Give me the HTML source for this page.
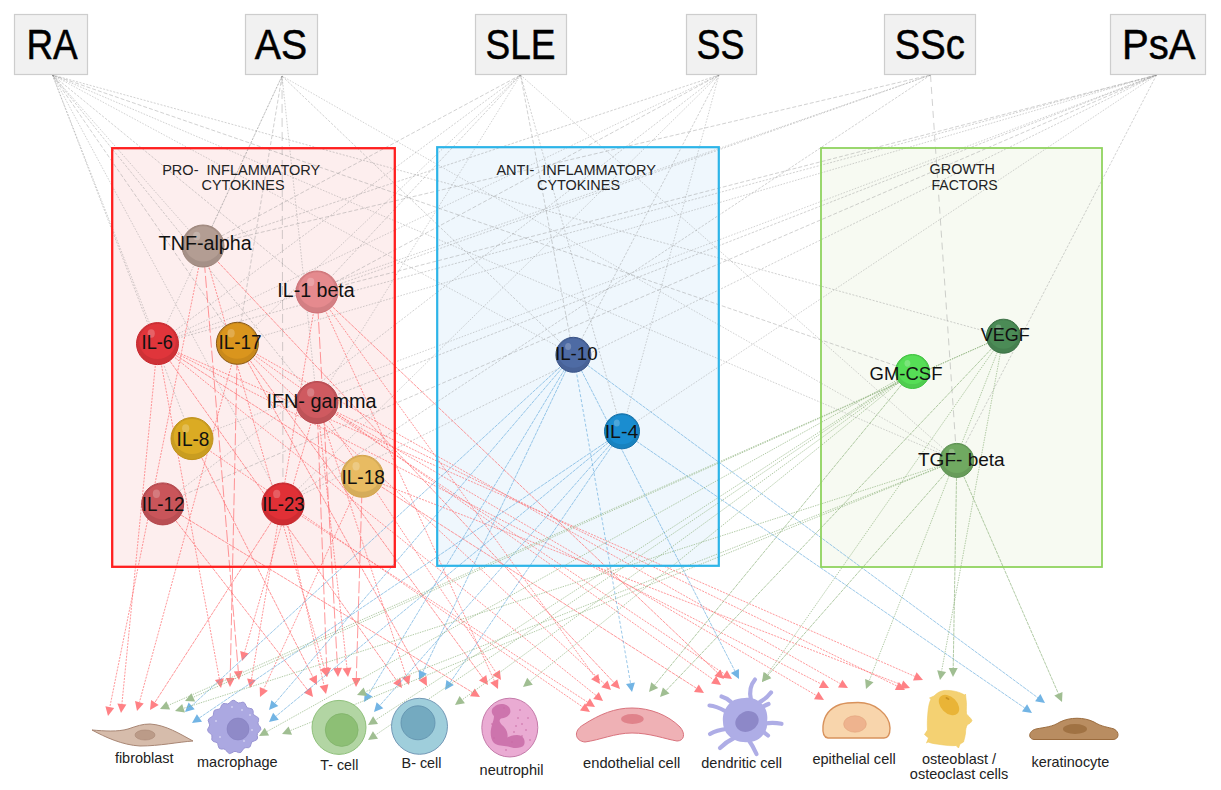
<!DOCTYPE html><html><head><meta charset="utf-8"><style>html,body{margin:0;padding:0;background:#fff;}svg{display:block;}text{font-family:"Liberation Sans",sans-serif;}</style></head><body>
<svg width="1221" height="790" viewBox="0 0 1221 790">
<defs>
</defs>
<rect width="1221" height="790" fill="#fff"/>
<rect x="112" y="148" width="283" height="419" fill="#fdeeee"/>
<rect x="437" y="147" width="282" height="419" fill="#eff7fd"/>
<rect x="821" y="148" width="281" height="419" fill="#f7faf2"/>
<line x1="52.5" y1="75" x2="203" y2="246" stroke="#888" stroke-width="0.9" stroke-dasharray="1.6 1.4" opacity="0.42"/>
<line x1="52.5" y1="75" x2="317" y2="292" stroke="#888" stroke-width="0.9" stroke-dasharray="2.5 1.5" opacity="0.42"/>
<line x1="52.5" y1="75" x2="157.5" y2="343.6" stroke="#888" stroke-width="0.9" stroke-dasharray="1.5 1.5" opacity="0.42"/>
<line x1="52.5" y1="75" x2="237.4" y2="343.3" stroke="#888" stroke-width="0.9" stroke-dasharray="4 2" opacity="0.42"/>
<line x1="52.5" y1="75" x2="192" y2="438.6" stroke="#888" stroke-width="0.9" stroke-dasharray="2 1.5" opacity="0.42"/>
<line x1="52.5" y1="75" x2="283" y2="504" stroke="#888" stroke-width="0.9" stroke-dasharray="1.6 1.4" opacity="0.42"/>
<line x1="52.5" y1="75" x2="317" y2="402.5" stroke="#888" stroke-width="0.9" stroke-dasharray="2.5 1.5" opacity="0.42"/>
<line x1="52.5" y1="75" x2="573.4" y2="354.8" stroke="#888" stroke-width="0.9" stroke-dasharray="1.5 1.5" opacity="0.42"/>
<line x1="52.5" y1="75" x2="912.5" y2="371.5" stroke="#888" stroke-width="0.9" stroke-dasharray="4 2" opacity="0.42"/>
<line x1="52.5" y1="75" x2="1003.5" y2="336.2" stroke="#888" stroke-width="0.9" stroke-dasharray="2 1.5" opacity="0.42"/>
<line x1="52.5" y1="75" x2="956.8" y2="460.4" stroke="#888" stroke-width="0.9" stroke-dasharray="1.6 1.4" opacity="0.42"/>
<line x1="282" y1="76" x2="203" y2="246" stroke="#888" stroke-width="0.9" stroke-dasharray="2.5 1.5" opacity="0.42"/>
<line x1="282" y1="76" x2="157.5" y2="343.6" stroke="#888" stroke-width="0.9" stroke-dasharray="1.5 1.5" opacity="0.42"/>
<line x1="282" y1="76" x2="237.4" y2="343.3" stroke="#888" stroke-width="0.9" stroke-dasharray="4 2" opacity="0.42"/>
<line x1="282" y1="76" x2="283" y2="504" stroke="#888" stroke-width="0.9" stroke-dasharray="9 5" opacity="0.42"/>
<line x1="282" y1="76" x2="317" y2="402.5" stroke="#888" stroke-width="0.9" stroke-dasharray="1.6 1.4" opacity="0.42"/>
<line x1="282" y1="76" x2="573.4" y2="354.8" stroke="#888" stroke-width="0.9" stroke-dasharray="2.5 1.5" opacity="0.42"/>
<line x1="282" y1="76" x2="956.8" y2="460.4" stroke="#888" stroke-width="0.9" stroke-dasharray="1.5 1.5" opacity="0.42"/>
<line x1="520.5" y1="75" x2="203" y2="246" stroke="#888" stroke-width="0.9" stroke-dasharray="4 2" opacity="0.42"/>
<line x1="520.5" y1="75" x2="157.5" y2="343.6" stroke="#888" stroke-width="0.9" stroke-dasharray="2 1.5" opacity="0.42"/>
<line x1="520.5" y1="75" x2="237.4" y2="343.3" stroke="#888" stroke-width="0.9" stroke-dasharray="1.6 1.4" opacity="0.42"/>
<line x1="520.5" y1="75" x2="317" y2="292" stroke="#888" stroke-width="0.9" stroke-dasharray="2.5 1.5" opacity="0.42"/>
<line x1="520.5" y1="75" x2="317" y2="402.5" stroke="#888" stroke-width="0.9" stroke-dasharray="1.5 1.5" opacity="0.42"/>
<line x1="520.5" y1="75" x2="573.4" y2="354.8" stroke="#888" stroke-width="0.9" stroke-dasharray="4 2" opacity="0.42"/>
<line x1="520.5" y1="75" x2="622" y2="431.3" stroke="#888" stroke-width="0.9" stroke-dasharray="2 1.5" opacity="0.42"/>
<line x1="520.5" y1="75" x2="956.8" y2="460.4" stroke="#888" stroke-width="0.9" stroke-dasharray="1.6 1.4" opacity="0.42"/>
<line x1="719" y1="75" x2="203" y2="246" stroke="#888" stroke-width="0.9" stroke-dasharray="2.5 1.5" opacity="0.42"/>
<line x1="719" y1="75" x2="157.5" y2="343.6" stroke="#888" stroke-width="0.9" stroke-dasharray="1.5 1.5" opacity="0.42"/>
<line x1="719" y1="75" x2="317" y2="292" stroke="#888" stroke-width="0.9" stroke-dasharray="4 2" opacity="0.42"/>
<line x1="719" y1="75" x2="162.7" y2="503.9" stroke="#888" stroke-width="0.9" stroke-dasharray="2 1.5" opacity="0.42"/>
<line x1="719" y1="75" x2="283" y2="504" stroke="#888" stroke-width="0.9" stroke-dasharray="1.6 1.4" opacity="0.42"/>
<line x1="719" y1="75" x2="573.4" y2="354.8" stroke="#888" stroke-width="0.9" stroke-dasharray="2.5 1.5" opacity="0.42"/>
<line x1="719" y1="75" x2="622" y2="431.3" stroke="#888" stroke-width="0.9" stroke-dasharray="1.5 1.5" opacity="0.42"/>
<line x1="930.5" y1="75" x2="203" y2="246" stroke="#888" stroke-width="0.9" stroke-dasharray="4 2" opacity="0.42"/>
<line x1="930.5" y1="75" x2="317" y2="292" stroke="#888" stroke-width="0.9" stroke-dasharray="2 1.5" opacity="0.42"/>
<line x1="930.5" y1="75" x2="157.5" y2="343.6" stroke="#888" stroke-width="0.9" stroke-dasharray="1.6 1.4" opacity="0.42"/>
<line x1="930.5" y1="75" x2="283" y2="504" stroke="#888" stroke-width="0.9" stroke-dasharray="2.5 1.5" opacity="0.42"/>
<line x1="930.5" y1="75" x2="956.8" y2="460.4" stroke="#888" stroke-width="0.9" stroke-dasharray="7 5" opacity="0.42"/>
<line x1="1156.5" y1="75" x2="317" y2="292" stroke="#888" stroke-width="0.9" stroke-dasharray="4 2" opacity="0.42"/>
<line x1="1156.5" y1="75" x2="157.5" y2="343.6" stroke="#888" stroke-width="0.9" stroke-dasharray="2 1.5" opacity="0.42"/>
<line x1="1156.5" y1="75" x2="237.4" y2="343.3" stroke="#888" stroke-width="0.9" stroke-dasharray="1.6 1.4" opacity="0.42"/>
<line x1="1156.5" y1="75" x2="317" y2="402.5" stroke="#888" stroke-width="0.9" stroke-dasharray="2.5 1.5" opacity="0.42"/>
<line x1="1156.5" y1="75" x2="192" y2="438.6" stroke="#888" stroke-width="0.9" stroke-dasharray="1.5 1.5" opacity="0.42"/>
<line x1="1156.5" y1="75" x2="162.7" y2="503.9" stroke="#888" stroke-width="0.9" stroke-dasharray="4 2" opacity="0.42"/>
<line x1="1156.5" y1="75" x2="283" y2="504" stroke="#888" stroke-width="0.9" stroke-dasharray="2 1.5" opacity="0.42"/>
<line x1="1156.5" y1="75" x2="622" y2="431.3" stroke="#888" stroke-width="0.9" stroke-dasharray="1.6 1.4" opacity="0.42"/>
<line x1="1156.5" y1="75" x2="956.8" y2="460.4" stroke="#888" stroke-width="0.9" stroke-dasharray="2.5 1.5" opacity="0.42"/>
<line x1="203" y1="246" x2="109.8" y2="707.2" stroke="#ff6f73" stroke-width="0.9" stroke-dasharray="2 1.2" opacity="0.8"/>
<polygon points="108,716 105.4,706.3 114.2,708.1" fill="#ff8185"/>
<line x1="157.5" y1="343.6" x2="121.9" y2="704.0" stroke="#ff6f73" stroke-width="0.9" stroke-dasharray="2 1.2" opacity="0.8"/>
<polygon points="121,713 117.4,703.6 126.4,704.5" fill="#ff8185"/>
<line x1="237.4" y1="343.3" x2="139.4" y2="702.3" stroke="#ff6f73" stroke-width="0.9" stroke-dasharray="2 1.2" opacity="0.8"/>
<polygon points="137,711 135.0,701.1 143.7,703.5" fill="#ff8185"/>
<line x1="283" y1="504" x2="154.9" y2="702.4" stroke="#ff6f73" stroke-width="0.9" stroke-dasharray="3.5 0.8" opacity="0.8"/>
<polygon points="150,710 151.1,700.0 158.7,704.9" fill="#ff8185"/>
<line x1="157.5" y1="343.6" x2="219.4" y2="679.1" stroke="#ff6f73" stroke-width="0.9" stroke-dasharray="2 1.2" opacity="0.8"/>
<polygon points="221,688 214.9,680.0 223.8,678.3" fill="#ff8185"/>
<line x1="237.4" y1="343.3" x2="230.2" y2="678.0" stroke="#ff6f73" stroke-width="0.9" stroke-dasharray="12 3" opacity="0.8"/>
<polygon points="230,687 225.7,677.9 234.7,678.1" fill="#ff8185"/>
<line x1="203" y1="246" x2="238.3" y2="671.0" stroke="#ff6f73" stroke-width="0.9" stroke-dasharray="12 3" opacity="0.8"/>
<polygon points="239,680 233.8,671.4 242.7,670.7" fill="#ff8185"/>
<line x1="317" y1="402.5" x2="244.5" y2="652.4" stroke="#ff6f73" stroke-width="0.9" stroke-dasharray="2 1.2" opacity="0.8"/>
<polygon points="242,661 240.2,651.1 248.8,653.6" fill="#ff8185"/>
<line x1="317" y1="292" x2="251.5" y2="679.1" stroke="#ff6f73" stroke-width="0.9" stroke-dasharray="2 1.2" opacity="0.8"/>
<polygon points="250,688 247.1,678.4 255.9,679.9" fill="#ff8185"/>
<line x1="362.4" y1="476.3" x2="263.8" y2="688.8" stroke="#ff6f73" stroke-width="0.9" stroke-dasharray="2 1.2" opacity="0.8"/>
<polygon points="260,697 259.7,686.9 267.9,690.7" fill="#ff8185"/>
<line x1="162.7" y1="503.9" x2="307.5" y2="689.9" stroke="#ff6f73" stroke-width="0.9" stroke-dasharray="3.5 0.8" opacity="0.8"/>
<polygon points="313,697 303.9,692.7 311.0,687.1" fill="#ff8185"/>
<line x1="192" y1="438.6" x2="312.9" y2="677.0" stroke="#ff6f73" stroke-width="0.9" stroke-dasharray="3.5 0.8" opacity="0.8"/>
<polygon points="317,685 308.9,679.0 316.9,674.9" fill="#ff8185"/>
<line x1="283" y1="504" x2="324.0" y2="685.2" stroke="#ff6f73" stroke-width="0.9" stroke-dasharray="2 1.2" opacity="0.8"/>
<polygon points="326,694 319.6,686.2 328.4,684.2" fill="#ff8185"/>
<line x1="317" y1="402.5" x2="326.7" y2="668.0" stroke="#ff6f73" stroke-width="0.9" stroke-dasharray="12 3" opacity="0.8"/>
<polygon points="327,677 322.2,668.2 331.2,667.8" fill="#ff8185"/>
<line x1="203" y1="246" x2="324.5" y2="668.4" stroke="#ff6f73" stroke-width="0.9" stroke-dasharray="2 1.2" opacity="0.8"/>
<polygon points="327,677 320.2,669.6 328.8,667.1" fill="#ff8185"/>
<line x1="317" y1="292" x2="337.5" y2="668.0" stroke="#ff6f73" stroke-width="0.9" stroke-dasharray="12 3" opacity="0.8"/>
<polygon points="338,677 333.0,668.3 342.0,667.8" fill="#ff8185"/>
<line x1="317" y1="402.5" x2="347.0" y2="668.1" stroke="#ff6f73" stroke-width="0.9" stroke-dasharray="2 1.2" opacity="0.8"/>
<polygon points="348,677 342.5,668.6 351.5,667.6" fill="#ff8185"/>
<line x1="362.4" y1="476.3" x2="356.3" y2="678.0" stroke="#ff6f73" stroke-width="0.9" stroke-dasharray="12 3" opacity="0.8"/>
<polygon points="356,687 351.8,677.9 360.8,678.1" fill="#ff8185"/>
<line x1="157.5" y1="343.6" x2="396.8" y2="680.7" stroke="#ff6f73" stroke-width="0.9" stroke-dasharray="3.5 0.8" opacity="0.8"/>
<polygon points="402,688 393.1,683.3 400.5,678.1" fill="#ff8185"/>
<line x1="317" y1="402.5" x2="406.2" y2="676.4" stroke="#ff6f73" stroke-width="0.9" stroke-dasharray="2 1.2" opacity="0.8"/>
<polygon points="409,685 401.9,677.8 410.5,675.0" fill="#ff8185"/>
<line x1="237.4" y1="343.3" x2="422.6" y2="678.1" stroke="#ff6f73" stroke-width="0.9" stroke-dasharray="3.5 0.8" opacity="0.8"/>
<polygon points="427,686 418.7,680.3 426.6,675.9" fill="#ff8185"/>
<line x1="162.7" y1="503.9" x2="472.3" y2="692.3" stroke="#ff6f73" stroke-width="0.9" stroke-dasharray="3.5 0.8" opacity="0.8"/>
<polygon points="480,697 470.0,696.2 474.7,688.5" fill="#ff8185"/>
<line x1="237.4" y1="343.3" x2="482.7" y2="677.7" stroke="#ff6f73" stroke-width="0.9" stroke-dasharray="3.5 0.8" opacity="0.8"/>
<polygon points="488,685 479.0,680.4 486.3,675.1" fill="#ff8185"/>
<line x1="317" y1="292" x2="494.3" y2="680.8" stroke="#ff6f73" stroke-width="0.9" stroke-dasharray="2 1.2" opacity="0.8"/>
<polygon points="498,689 490.2,682.7 498.4,678.9" fill="#ff8185"/>
<line x1="317" y1="402.5" x2="496.0" y2="672.5" stroke="#ff6f73" stroke-width="0.9" stroke-dasharray="2 1.2" opacity="0.8"/>
<polygon points="501,680 492.3,675.0 499.8,670.0" fill="#ff8185"/>
<line x1="192" y1="438.6" x2="582.6" y2="706.9" stroke="#ff6f73" stroke-width="0.9" stroke-dasharray="2 1.2" opacity="0.8"/>
<polygon points="590,712 580.0,710.6 585.1,703.2" fill="#ff8185"/>
<line x1="283" y1="504" x2="587.5" y2="702.1" stroke="#ff6f73" stroke-width="0.9" stroke-dasharray="2 1.2" opacity="0.8"/>
<polygon points="595,707 585.0,705.9 589.9,698.3" fill="#ff8185"/>
<line x1="157.5" y1="343.6" x2="596.0" y2="695.4" stroke="#ff6f73" stroke-width="0.9" stroke-dasharray="2 1.2" opacity="0.8"/>
<polygon points="603,701 593.2,698.9 598.8,691.9" fill="#ff8185"/>
<line x1="317" y1="292" x2="594.7" y2="676.7" stroke="#ff6f73" stroke-width="0.9" stroke-dasharray="2 1.2" opacity="0.8"/>
<polygon points="600,684 591.1,679.3 598.4,674.1" fill="#ff8185"/>
<line x1="237.4" y1="343.3" x2="604.4" y2="683.9" stroke="#ff6f73" stroke-width="0.9" stroke-dasharray="2 1.2" opacity="0.8"/>
<polygon points="611,690 601.3,687.2 607.5,680.6" fill="#ff8185"/>
<line x1="203" y1="246" x2="613.8" y2="682.4" stroke="#ff6f73" stroke-width="0.9" stroke-dasharray="3.5 0.8" opacity="0.8"/>
<polygon points="620,689 610.6,685.5 617.1,679.4" fill="#ff8185"/>
<line x1="157.5" y1="343.6" x2="696.4" y2="688.2" stroke="#ff6f73" stroke-width="0.9" stroke-dasharray="3.5 0.8" opacity="0.8"/>
<polygon points="704,693 694.0,691.9 698.8,684.4" fill="#ff8185"/>
<line x1="237.4" y1="343.3" x2="713.6" y2="679.8" stroke="#ff6f73" stroke-width="0.9" stroke-dasharray="2 1.2" opacity="0.8"/>
<polygon points="721,685 711.1,683.5 716.2,676.1" fill="#ff8185"/>
<line x1="317" y1="292" x2="717.5" y2="672.8" stroke="#ff6f73" stroke-width="0.9" stroke-dasharray="3.5 0.8" opacity="0.8"/>
<polygon points="724,679 714.4,676.1 720.6,669.5" fill="#ff8185"/>
<line x1="317" y1="402.5" x2="724.5" y2="674.0" stroke="#ff6f73" stroke-width="0.9" stroke-dasharray="2 1.2" opacity="0.8"/>
<polygon points="732,679 722.0,677.8 727.0,670.3" fill="#ff8185"/>
<line x1="157.5" y1="343.6" x2="821.0" y2="683.9" stroke="#ff6f73" stroke-width="0.9" stroke-dasharray="2 1.2" opacity="0.8"/>
<polygon points="829,688 818.9,687.9 823.0,679.9" fill="#ff8185"/>
<line x1="237.4" y1="343.3" x2="840.2" y2="683.6" stroke="#ff6f73" stroke-width="0.9" stroke-dasharray="2 1.2" opacity="0.8"/>
<polygon points="848,688 838.0,687.5 842.4,679.7" fill="#ff8185"/>
<line x1="317" y1="402.5" x2="816.2" y2="695.4" stroke="#ff6f73" stroke-width="0.9" stroke-dasharray="2 1.2" opacity="0.8"/>
<polygon points="824,700 814.0,699.3 818.5,691.6" fill="#ff8185"/>
<line x1="157.5" y1="343.6" x2="914.8" y2="676.4" stroke="#ff6f73" stroke-width="0.9" stroke-dasharray="2 1.2" opacity="0.8"/>
<polygon points="923,680 913.0,680.5 916.6,672.3" fill="#ff8185"/>
<line x1="362.4" y1="476.3" x2="901.6" y2="684.8" stroke="#ff6f73" stroke-width="0.9" stroke-dasharray="2 1.2" opacity="0.8"/>
<polygon points="910,688 900.0,689.0 903.2,680.6" fill="#ff8185"/>
<line x1="317" y1="402.5" x2="896.9" y2="686.0" stroke="#ff6f73" stroke-width="0.9" stroke-dasharray="2 1.2" opacity="0.8"/>
<polygon points="905,690 894.9,690.1 898.9,682.0" fill="#ff8185"/>
<line x1="573.4" y1="354.8" x2="191.6" y2="705.9" stroke="#62a9dc" stroke-width="0.9" stroke-dasharray="3.5 0.8" opacity="0.7"/>
<polygon points="185,712 188.6,702.6 194.7,709.2" fill="#72b4e4"/>
<line x1="622" y1="431.3" x2="199.4" y2="717.9" stroke="#62a9dc" stroke-width="0.9" stroke-dasharray="3.5 0.8" opacity="0.7"/>
<polygon points="192,723 196.9,714.2 202.0,721.7" fill="#72b4e4"/>
<line x1="573.4" y1="354.8" x2="274.9" y2="703.2" stroke="#62a9dc" stroke-width="0.9" stroke-dasharray="3.5 0.8" opacity="0.7"/>
<polygon points="269,710 271.4,700.2 278.3,706.1" fill="#72b4e4"/>
<line x1="622" y1="431.3" x2="275.9" y2="716.3" stroke="#62a9dc" stroke-width="0.9" stroke-dasharray="3.5 0.8" opacity="0.7"/>
<polygon points="269,722 273.1,712.8 278.8,719.8" fill="#72b4e4"/>
<line x1="573.4" y1="354.8" x2="368.6" y2="694.3" stroke="#62a9dc" stroke-width="0.9" stroke-dasharray="3.5 0.8" opacity="0.7"/>
<polygon points="364,702 364.8,692.0 372.5,696.6" fill="#72b4e4"/>
<line x1="622" y1="431.3" x2="380.0" y2="705.3" stroke="#62a9dc" stroke-width="0.9" stroke-dasharray="3.5 0.8" opacity="0.7"/>
<polygon points="374,712 376.6,702.3 383.3,708.2" fill="#72b4e4"/>
<line x1="573.4" y1="354.8" x2="422.9" y2="671.9" stroke="#62a9dc" stroke-width="0.9" stroke-dasharray="3.5 0.8" opacity="0.7"/>
<polygon points="419,680 418.8,669.9 426.9,673.8" fill="#72b4e4"/>
<line x1="622" y1="431.3" x2="450.1" y2="682.6" stroke="#62a9dc" stroke-width="0.9" stroke-dasharray="3.5 0.8" opacity="0.7"/>
<polygon points="445,690 446.4,680.0 453.8,685.1" fill="#72b4e4"/>
<line x1="573.4" y1="354.8" x2="630.5" y2="683.1" stroke="#62a9dc" stroke-width="0.9" stroke-dasharray="3 2" opacity="0.7"/>
<polygon points="632,692 626.0,683.9 634.9,682.4" fill="#72b4e4"/>
<line x1="573.4" y1="354.8" x2="734.9" y2="671.0" stroke="#62a9dc" stroke-width="0.9" stroke-dasharray="3.5 0.8" opacity="0.7"/>
<polygon points="739,679 730.9,673.0 738.9,668.9" fill="#72b4e4"/>
<line x1="622" y1="431.3" x2="1024.6" y2="707.9" stroke="#62a9dc" stroke-width="0.9" stroke-dasharray="3.5 0.8" opacity="0.7"/>
<polygon points="1032,713 1022.0,711.6 1027.1,704.2" fill="#72b4e4"/>
<line x1="573.4" y1="354.8" x2="1037.8" y2="697.7" stroke="#62a9dc" stroke-width="0.9" stroke-dasharray="3.5 0.8" opacity="0.7"/>
<polygon points="1045,703 1035.1,701.3 1040.4,694.0" fill="#72b4e4"/>
<line x1="1003.5" y1="336.2" x2="168.2" y2="705.4" stroke="#8db27c" stroke-width="0.9" stroke-dasharray="1.4 1.1" opacity="0.75"/>
<polygon points="160,709 166.4,701.2 170.1,709.5" fill="#a0be92"/>
<line x1="956.8" y1="460.4" x2="183.6" y2="708.3" stroke="#8db27c" stroke-width="0.9" stroke-dasharray="1.4 1.1" opacity="0.75"/>
<polygon points="175,711 182.2,704.0 184.9,712.5" fill="#a0be92"/>
<line x1="1003.5" y1="336.2" x2="193.2" y2="697.3" stroke="#8db27c" stroke-width="0.9" stroke-dasharray="1.4 1.1" opacity="0.75"/>
<polygon points="185,701 191.4,693.2 195.1,701.4" fill="#a0be92"/>
<line x1="912.5" y1="371.5" x2="266.9" y2="731.6" stroke="#8db27c" stroke-width="0.9" stroke-dasharray="1.4 1.1" opacity="0.75"/>
<polygon points="259,736 264.7,727.7 269.1,735.5" fill="#a0be92"/>
<line x1="956.8" y1="460.4" x2="290.3" y2="730.6" stroke="#8db27c" stroke-width="0.9" stroke-dasharray="1.4 1.1" opacity="0.75"/>
<polygon points="282,734 288.6,726.4 292.0,734.8" fill="#a0be92"/>
<line x1="912.5" y1="371.5" x2="375.5" y2="720.1" stroke="#8db27c" stroke-width="0.9" stroke-dasharray="1.4 1.1" opacity="0.75"/>
<polygon points="368,725 373.1,716.3 378.0,723.9" fill="#a0be92"/>
<line x1="912.5" y1="371.5" x2="375.5" y2="735.0" stroke="#8db27c" stroke-width="0.9" stroke-dasharray="1.4 1.1" opacity="0.75"/>
<polygon points="368,740 372.9,731.2 378.0,738.7" fill="#a0be92"/>
<line x1="956.8" y1="460.4" x2="365.4" y2="691.7" stroke="#8db27c" stroke-width="0.9" stroke-dasharray="1.4 1.1" opacity="0.75"/>
<polygon points="357,695 363.7,687.5 367.0,695.9" fill="#a0be92"/>
<line x1="912.5" y1="371.5" x2="462.3" y2="699.7" stroke="#8db27c" stroke-width="0.9" stroke-dasharray="1.4 1.1" opacity="0.75"/>
<polygon points="455,705 459.6,696.1 464.9,703.3" fill="#a0be92"/>
<line x1="912.5" y1="371.5" x2="530.0" y2="681.3" stroke="#8db27c" stroke-width="0.9" stroke-dasharray="1.4 1.1" opacity="0.75"/>
<polygon points="523,687 527.2,677.8 532.8,684.8" fill="#a0be92"/>
<line x1="912.5" y1="371.5" x2="654.7" y2="685.0" stroke="#8db27c" stroke-width="0.9" stroke-dasharray="3.5 0.8" opacity="0.75"/>
<polygon points="649,692 651.2,682.2 658.2,687.9" fill="#a0be92"/>
<line x1="1003.5" y1="336.2" x2="666.2" y2="690.5" stroke="#8db27c" stroke-width="0.9" stroke-dasharray="3.5 0.8" opacity="0.75"/>
<polygon points="660,697 662.9,687.4 669.5,693.6" fill="#a0be92"/>
<line x1="956.8" y1="460.4" x2="767.9" y2="675.2" stroke="#8db27c" stroke-width="0.9" stroke-dasharray="3.5 0.8" opacity="0.75"/>
<polygon points="762,682 764.6,672.3 771.3,678.2" fill="#a0be92"/>
<line x1="1003.5" y1="336.2" x2="767.2" y2="674.6" stroke="#8db27c" stroke-width="0.9" stroke-dasharray="1.4 1.1" opacity="0.75"/>
<polygon points="762,682 763.5,672.0 770.8,677.2" fill="#a0be92"/>
<line x1="1003.5" y1="336.2" x2="869.3" y2="680.6" stroke="#8db27c" stroke-width="0.9" stroke-dasharray="1.4 1.1" opacity="0.75"/>
<polygon points="866,689 865.1,679.0 873.5,682.2" fill="#a0be92"/>
<line x1="1003.5" y1="336.2" x2="941.6" y2="671.1" stroke="#8db27c" stroke-width="0.9" stroke-dasharray="1.4 1.1" opacity="0.75"/>
<polygon points="940,680 937.2,670.3 946.1,672.0" fill="#a0be92"/>
<line x1="956.8" y1="460.4" x2="953.2" y2="668.0" stroke="#8db27c" stroke-width="0.9" stroke-dasharray="3.5 0.8" opacity="0.75"/>
<polygon points="953,677 948.7,667.9 957.7,668.1" fill="#a0be92"/>
<line x1="956.8" y1="460.4" x2="1058.4" y2="693.7" stroke="#8db27c" stroke-width="0.9" stroke-dasharray="3.5 0.8" opacity="0.75"/>
<polygon points="1062,702 1054.3,695.5 1062.5,692.0" fill="#a0be92"/>
<rect x="112.2" y="148.2" width="282.6" height="418.6" fill="none" stroke="#ff1f1f" stroke-width="2.3"/>
<rect x="437.2" y="147.2" width="281.6" height="418.6" fill="none" stroke="#2cb4e8" stroke-width="2.2"/>
<rect x="821" y="148" width="281" height="419" fill="none" stroke="#8fd35f" stroke-width="1.8"/>
<rect x="14.5" y="14.5" width="73" height="60" fill="#f1f1f1" stroke="#cdcdcd" stroke-width="1.2"/>
<text x="26.4" y="59.2" font-size="43" fill="#000" stroke="#000" stroke-width="0.5" textLength="51.4" lengthAdjust="spacingAndGlyphs">RA</text>
<rect x="245.5" y="14.5" width="72" height="60" fill="#f1f1f1" stroke="#cdcdcd" stroke-width="1.2"/>
<text x="254.8" y="59.2" font-size="43" fill="#000" stroke="#000" stroke-width="0.5" textLength="52.4" lengthAdjust="spacingAndGlyphs">AS</text>
<rect x="475.5" y="14.5" width="91" height="60" fill="#f1f1f1" stroke="#cdcdcd" stroke-width="1.2"/>
<text x="485.4" y="59.2" font-size="43" fill="#000" stroke="#000" stroke-width="0.5" textLength="70.1" lengthAdjust="spacingAndGlyphs">SLE</text>
<rect x="686.5" y="14.5" width="70" height="60" fill="#f1f1f1" stroke="#cdcdcd" stroke-width="1.2"/>
<text x="696.6" y="59.2" font-size="43" fill="#000" stroke="#000" stroke-width="0.5" textLength="48.0" lengthAdjust="spacingAndGlyphs">SS</text>
<rect x="884.5" y="14.5" width="91" height="60" fill="#f1f1f1" stroke="#cdcdcd" stroke-width="1.2"/>
<text x="894.8" y="59.2" font-size="43" fill="#000" stroke="#000" stroke-width="0.5" textLength="70.1" lengthAdjust="spacingAndGlyphs">SSc</text>
<rect x="1110.5" y="14.5" width="95" height="60" fill="#f1f1f1" stroke="#cdcdcd" stroke-width="1.2"/>
<text x="1122.0" y="59.2" font-size="43" fill="#000" stroke="#000" stroke-width="0.5" textLength="73.5" lengthAdjust="spacingAndGlyphs">PsA</text>
<text x="162.2" y="174.8" font-size="14.5" fill="#222" textLength="158.1" lengthAdjust="spacingAndGlyphs" xml:space="preserve">PRO-  INFLAMMATORY</text>
<text x="201.5" y="190.3" font-size="14.5" fill="#222" textLength="83.0" lengthAdjust="spacingAndGlyphs" xml:space="preserve">CYTOKINES</text>
<text x="496.4" y="174.6" font-size="14.5" fill="#222" textLength="159.6" lengthAdjust="spacingAndGlyphs" xml:space="preserve">ANTI-  INFLAMMATORY</text>
<text x="537" y="189.8" font-size="14.5" fill="#222" textLength="83.0" lengthAdjust="spacingAndGlyphs" xml:space="preserve">CYTOKINES</text>
<text x="929.6" y="174.3" font-size="14.5" fill="#222" textLength="65.4" lengthAdjust="spacingAndGlyphs" xml:space="preserve">GROWTH</text>
<text x="931.5" y="190.1" font-size="14.5" fill="#222" textLength="66.2" lengthAdjust="spacingAndGlyphs" xml:space="preserve">FACTORS</text>
<circle cx="203" cy="246" r="21" fill="#a59087" stroke="#9c8479" stroke-width="1"/>
<ellipse cx="203" cy="243.9" rx="18.3" ry="17.6" fill="#b39d93"/>
<ellipse cx="196.7" cy="235.9" rx="3.6" ry="4.2" fill="#fff" opacity="0.22"/>
<circle cx="317" cy="292" r="21" fill="#d37f83" stroke="#cf7075" stroke-width="1"/>
<ellipse cx="317" cy="289.9" rx="18.3" ry="17.6" fill="#e58a8e"/>
<ellipse cx="310.7" cy="281.9" rx="3.6" ry="4.2" fill="#fff" opacity="0.22"/>
<circle cx="157.5" cy="343.6" r="21" fill="#ce3136" stroke="#c8262c" stroke-width="1"/>
<ellipse cx="157.5" cy="341.5" rx="18.3" ry="17.6" fill="#e0353b"/>
<ellipse cx="151.2" cy="333.5" rx="3.6" ry="4.2" fill="#fff" opacity="0.22"/>
<circle cx="237.4" cy="343.3" r="21" fill="#c9891b" stroke="#8a5a1a" stroke-width="1"/>
<ellipse cx="237.4" cy="341.2" rx="18.3" ry="17.6" fill="#da951d"/>
<ellipse cx="231.1" cy="333.2" rx="3.6" ry="4.2" fill="#fff" opacity="0.22"/>
<circle cx="317" cy="402.5" r="21" fill="#be5358" stroke="#b8474d" stroke-width="1"/>
<ellipse cx="317" cy="400.4" rx="18.3" ry="17.6" fill="#cf5a60"/>
<ellipse cx="310.7" cy="392.4" rx="3.6" ry="4.2" fill="#fff" opacity="0.22"/>
<circle cx="192" cy="438.6" r="21" fill="#c99d20" stroke="#c09018" stroke-width="1"/>
<ellipse cx="192" cy="436.5" rx="18.3" ry="17.6" fill="#dbab23"/>
<ellipse cx="185.7" cy="428.5" rx="3.6" ry="4.2" fill="#fff" opacity="0.22"/>
<circle cx="362.4" cy="476.3" r="21" fill="#d5ac5a" stroke="#d6a54c" stroke-width="1"/>
<ellipse cx="362.4" cy="474.2" rx="18.3" ry="17.6" fill="#e8bb62"/>
<ellipse cx="356.1" cy="466.2" rx="3.6" ry="4.2" fill="#fff" opacity="0.22"/>
<circle cx="162.7" cy="503.9" r="21" fill="#b94e53" stroke="#b34349" stroke-width="1"/>
<ellipse cx="162.7" cy="501.8" rx="18.3" ry="17.6" fill="#c9555a"/>
<ellipse cx="156.4" cy="493.8" rx="3.6" ry="4.2" fill="#fff" opacity="0.22"/>
<circle cx="283" cy="504" r="21" fill="#ce2c32" stroke="#c5252a" stroke-width="1"/>
<ellipse cx="283" cy="501.9" rx="18.3" ry="17.6" fill="#e03036"/>
<ellipse cx="276.7" cy="493.9" rx="3.6" ry="4.2" fill="#fff" opacity="0.22"/>
<circle cx="573.4" cy="354.8" r="17.5" fill="#486297" stroke="#3a5488" stroke-width="1"/>
<ellipse cx="573.4" cy="353.1" rx="15.2" ry="14.7" fill="#4e6ba4"/>
<ellipse cx="568.1" cy="346.4" rx="3.0" ry="3.5" fill="#fff" opacity="0.22"/>
<circle cx="622" cy="431.3" r="17.5" fill="#1882bf" stroke="#136fa8" stroke-width="1"/>
<ellipse cx="622" cy="429.6" rx="15.2" ry="14.7" fill="#1a8dd0"/>
<ellipse cx="616.8" cy="422.9" rx="3.0" ry="3.5" fill="#fff" opacity="0.22"/>
<circle cx="1003.5" cy="336.2" r="17" fill="#45804f" stroke="#3b7045" stroke-width="1"/>
<ellipse cx="1003.5" cy="334.5" rx="14.8" ry="14.3" fill="#4b8b56"/>
<ellipse cx="998.4" cy="328.0" rx="2.9" ry="3.4" fill="#fff" opacity="0.22"/>
<circle cx="912.5" cy="371.5" r="17" fill="#4fcc4f" stroke="#3fc43f" stroke-width="1"/>
<ellipse cx="912.5" cy="369.8" rx="14.8" ry="14.3" fill="#56de56"/>
<ellipse cx="907.4" cy="363.3" rx="2.9" ry="3.4" fill="#fff" opacity="0.22"/>
<circle cx="956.8" cy="460.4" r="17" fill="#679b59" stroke="#5a9050" stroke-width="1"/>
<ellipse cx="956.8" cy="458.7" rx="14.8" ry="14.3" fill="#70a961"/>
<ellipse cx="951.7" cy="452.2" rx="2.9" ry="3.4" fill="#fff" opacity="0.22"/>
<text x="158.6" y="249.7" font-size="20" fill="#111" textLength="93.2" lengthAdjust="spacingAndGlyphs" xml:space="preserve">TNF-alpha</text>
<text x="277.3" y="297.3" font-size="20" fill="#111" textLength="77.4" lengthAdjust="spacingAndGlyphs" xml:space="preserve">IL-1 beta</text>
<text x="141.6" y="348.8" font-size="20" fill="#111" textLength="31.3" lengthAdjust="spacingAndGlyphs" xml:space="preserve">IL-6</text>
<text x="218.4" y="348.8" font-size="20" fill="#111" textLength="43.2" lengthAdjust="spacingAndGlyphs" xml:space="preserve">IL-17</text>
<text x="266.4" y="407.8" font-size="20" fill="#111" textLength="110.2" lengthAdjust="spacingAndGlyphs" xml:space="preserve">IFN- gamma</text>
<text x="176.6" y="446" font-size="20" fill="#111" textLength="32.8" lengthAdjust="spacingAndGlyphs" xml:space="preserve">IL-8</text>
<text x="341.4" y="484" font-size="20" fill="#111" textLength="43.6" lengthAdjust="spacingAndGlyphs" xml:space="preserve">IL-18</text>
<text x="141.7" y="510.9" font-size="20" fill="#111" textLength="42.8" lengthAdjust="spacingAndGlyphs" xml:space="preserve">IL-12</text>
<text x="262.2" y="510.6" font-size="20" fill="#111" textLength="42.4" lengthAdjust="spacingAndGlyphs" xml:space="preserve">IL-23</text>
<text x="555" y="359.9" font-size="18.5" fill="#111" textLength="42.6" lengthAdjust="spacingAndGlyphs" xml:space="preserve">IL-10</text>
<text x="604.7" y="437.9" font-size="18.5" fill="#111" textLength="33.7" lengthAdjust="spacingAndGlyphs" xml:space="preserve">IL-4</text>
<text x="980.8" y="340.8" font-size="18.5" fill="#111" textLength="48.9" lengthAdjust="spacingAndGlyphs" xml:space="preserve">VEGF</text>
<text x="869.6" y="380" font-size="18.5" fill="#111" textLength="72.9" lengthAdjust="spacingAndGlyphs" xml:space="preserve">GM-CSF</text>
<text x="918" y="466" font-size="18.5" fill="#111" textLength="86.7" lengthAdjust="spacingAndGlyphs" xml:space="preserve">TGF- beta</text>
<path d="M92,730 C104,731 118,732 128,729 C137,726 142,724 150,724 C166,725 180,734 193,741 C178,742 160,746 140,746 C122,745 105,737 92,730 Z" fill="#d6bcab" stroke="#a88674" stroke-width="1"/>
<ellipse cx="145" cy="735" rx="10" ry="5" fill="#bb9b88" stroke="#a88674" stroke-width="0.6"/>
<polygon points="260.3,727.0 260.9,729.3 259.3,731.5 257.5,733.3 257.2,735.4 257.6,738.0 256.5,740.0 254.0,741.0 251.8,741.9 251.0,744.0 250.3,746.5 248.5,747.7 245.9,747.6 243.9,748.2 242.5,750.3 240.8,752.5 238.5,752.6 236.1,751.5 234.0,751.5 231.7,752.9 229.3,753.6 227.3,752.0 225.7,749.8 223.8,748.9 221.2,749.1 219.1,748.2 218.2,745.8 217.7,743.3 215.9,742.2 213.3,741.5 211.8,739.8 211.9,737.3 211.9,735.1 210.1,733.4 208.0,731.6 207.6,729.3 209.0,727.0 209.7,724.9 208.8,722.5 208.1,720.1 209.5,718.1 212.0,716.8 213.4,715.1 213.5,712.7 214.3,710.4 216.5,709.5 219.1,709.2 220.6,707.8 221.5,705.3 223.1,703.5 225.5,703.6 227.8,704.0 229.7,702.7 231.7,700.7 234.0,700.2 236.2,701.7 238.2,703.0 240.5,702.7 243.1,702.1 245.0,703.4 246.1,706.0 247.4,707.8 249.7,708.3 252.1,708.9 253.1,710.9 253.2,713.6 254.2,715.3 256.6,716.5 258.6,718.1 258.6,720.4 257.9,722.8 258.5,724.9 260.3,727.0" fill="#aba8e1" stroke="#9a95d4" stroke-width="1"/>
<circle cx="238" cy="729" r="11" fill="#8f8ac8" stroke="#8580bf" stroke-width="0.6"/>
<circle cx="216" cy="721" r="1.1" fill="#cfcdf0"/>
<circle cx="242" cy="710" r="1.1" fill="#cfcdf0"/>
<circle cx="250" cy="715" r="1.1" fill="#cfcdf0"/>
<circle cx="220" cy="737" r="1.1" fill="#cfcdf0"/>
<circle cx="252" cy="730" r="1.1" fill="#cfcdf0"/>
<circle cx="244" cy="741" r="1.1" fill="#cfcdf0"/>
<circle cx="232" cy="707" r="1.1" fill="#cfcdf0"/>
<circle cx="339" cy="727.4" r="27" fill="#b2d5a3" stroke="#8fc07b" stroke-width="1"/>
<circle cx="341.7" cy="730" r="16.4" fill="#8dbf75" stroke="#80b369" stroke-width="0.8"/>
<circle cx="419.5" cy="726.3" r="28" fill="#9fcedb" stroke="#7398b6" stroke-width="1"/>
<circle cx="418" cy="722.8" r="17" fill="#74aac0" stroke="#5f8fac" stroke-width="0.8"/>
<ellipse cx="509.8" cy="727.6" rx="28" ry="29.4" fill="#eaabd3" stroke="#c47aa9" stroke-width="1"/>
<path d="M494,707 C498,702.5 508,703 510,709 C512,715 506,718 501,718.5 C499,720 499,722 502,725 C507,729 508,734 507.5,737.5 C509.5,736.5 512,735 517,735 C523,735 526,740 524,745 C521,749 513,748.5 508,746.5 C503,745.5 498,746 494,743 C490,739 490,731 492,725 C493,721 494,719 494,716 C491,713 491,709 494,707 Z" fill="#cd74ad"/>
<circle cx="518" cy="718" r="0.8" fill="#c86aa4"/>
<circle cx="522" cy="724" r="0.8" fill="#c86aa4"/>
<circle cx="526" cy="730" r="0.8" fill="#c86aa4"/>
<circle cx="516" cy="726" r="0.8" fill="#c86aa4"/>
<circle cx="522" cy="736" r="0.8" fill="#c86aa4"/>
<circle cx="504" cy="708" r="0.8" fill="#c86aa4"/>
<circle cx="528" cy="718" r="0.8" fill="#c86aa4"/>
<circle cx="492" cy="724" r="0.8" fill="#c86aa4"/>
<circle cx="494" cy="738" r="0.8" fill="#c86aa4"/>
<circle cx="512" cy="742" r="0.8" fill="#c86aa4"/>
<circle cx="506" cy="750" r="0.8" fill="#c86aa4"/>
<circle cx="520" cy="710" r="0.8" fill="#c86aa4"/>
<circle cx="530" cy="740" r="0.8" fill="#c86aa4"/>
<circle cx="514" cy="732" r="0.8" fill="#c86aa4"/>
<path d="M585,742 C575,741 573,731 583,725 C600,714 615,708 632,708 C650,708 668,715 680,727 C686,734 684,741 677,741 C665,739 650,733 632,733 C615,733 600,740 585,742 Z" fill="#efb1b5" stroke="#d9737d" stroke-width="1"/>
<ellipse cx="632.4" cy="719" rx="11.4" ry="5" fill="#e0838b"/>
<path d="M751,700 Q748,688 755,679.5" fill="none" stroke="#aeade6" stroke-width="4.2" stroke-linecap="round"/>
<path d="M760,702 Q766,699 771,692.5" fill="none" stroke="#aeade6" stroke-width="4.2" stroke-linecap="round"/>
<path d="M731,702 Q727,698 721.5,696.5" fill="none" stroke="#aeade6" stroke-width="4.2" stroke-linecap="round"/>
<path d="M725,711 Q716,706 709.5,705.5" fill="none" stroke="#aeade6" stroke-width="4.2" stroke-linecap="round"/>
<path d="M762,707 Q766,705 768.5,704" fill="none" stroke="#aeade6" stroke-width="4.2" stroke-linecap="round"/>
<path d="M765,723.5 Q773,722 781.5,723.8" fill="none" stroke="#aeade6" stroke-width="4.2" stroke-linecap="round"/>
<path d="M762,731 Q765,733 768,735.5" fill="none" stroke="#aeade6" stroke-width="4.2" stroke-linecap="round"/>
<path d="M726,729 Q717,730 710,734" fill="none" stroke="#aeade6" stroke-width="4.2" stroke-linecap="round"/>
<path d="M734,738 Q726,742 720,748" fill="none" stroke="#aeade6" stroke-width="4.2" stroke-linecap="round"/>
<path d="M748,739 Q753,746 756.5,754" fill="none" stroke="#aeade6" stroke-width="4.2" stroke-linecap="round"/>
<path d="M745,698 C752,697 758,700 762,704 C767,709 768,716 767,722 C768,729 764,736 757,740 C751,743 741,743 735,740 C728,737 723,730 723,722 C722,715 725,707 731,702 C735,699 740,698 745,698 Z" fill="#aeade6"/>
<ellipse cx="747" cy="721.5" rx="12" ry="10" fill="#8d88c8" transform="rotate(-25 747 721.5)"/>
<path d="M828,738 C823.5,737.5 822.5,732 823,726 C824,716 830,708 840,704.5 C846,702.5 852,702.5 858,702.5 C866,702.5 874,705 880,710 C886,715 890,721 890,728 C890,734 888,738 884,738 Z" fill="#f8d5ac" stroke="#d8925c" stroke-width="1.4"/>
<ellipse cx="855" cy="724" rx="11.3" ry="8.2" fill="#eeb38e" stroke="#e3a27c" stroke-width="0.6"/>
<path d="M944,690.5 C952,690 960,692 964.5,695 L965.5,694 L966,699 C967,704 966,709 966.5,714 C968,716 971,718 972,720.5 C971,723 969,724 967.5,724.5 C966,727 965.5,730 965.5,733 C965,737 964,740 963.5,742 L960,744 L958.5,748 L956,745.5 C952,746 946,745.5 940,744.5 C936,744 932,743.5 928,742 L926.5,743 L928.5,738 L924.5,734.5 L927.5,730 C927,724 927.5,717 928,711.5 C928.5,706 929.5,702 931,699 L929.5,698 L934,696 C937,693 940,691 944,690.5 Z" fill="#f4d172" stroke="#eec95f" stroke-width="0.6"/>
<ellipse cx="949" cy="705" rx="8" ry="12" fill="#e9b437" transform="rotate(-45 949 705)"/>
<ellipse cx="947.5" cy="698.5" rx="2.2" ry="1" fill="#c99222" transform="rotate(30 947.5 698.5)"/>
<path d="M1034,739.5 C1028,739 1028,731 1036,729 C1046,727 1052,727 1060,722 C1070,717 1084,717 1094,722 C1102,727 1108,727 1114,729 C1120,732 1119,739.5 1113,739.5 Z" fill="#b98d61" stroke="#9b6c3e" stroke-width="1"/>
<ellipse cx="1075" cy="729" rx="12" ry="5" fill="#a07243"/>
<text x="114.9" y="763.3" font-size="14.5" fill="#222" textLength="58.7" lengthAdjust="spacingAndGlyphs" xml:space="preserve">fibroblast</text>
<text x="197" y="767.4" font-size="14.5" fill="#222" textLength="80.6" lengthAdjust="spacingAndGlyphs" xml:space="preserve">macrophage</text>
<text x="320.3" y="770" font-size="14.5" fill="#222" textLength="38.0" lengthAdjust="spacingAndGlyphs" xml:space="preserve">T- cell</text>
<text x="401.6" y="768" font-size="14.5" fill="#222" textLength="39.9" lengthAdjust="spacingAndGlyphs" xml:space="preserve">B- cell</text>
<text x="479.6" y="774.8" font-size="14.5" fill="#222" textLength="63.9" lengthAdjust="spacingAndGlyphs" xml:space="preserve">neutrophil</text>
<text x="583.1" y="768" font-size="14.5" fill="#222" textLength="97.2" lengthAdjust="spacingAndGlyphs" xml:space="preserve">endothelial cell</text>
<text x="701.3" y="767.5" font-size="14.5" fill="#222" textLength="80.7" lengthAdjust="spacingAndGlyphs" xml:space="preserve">dendritic cell</text>
<text x="812.4" y="764" font-size="14.5" fill="#222" textLength="83.3" lengthAdjust="spacingAndGlyphs" xml:space="preserve">epithelial cell</text>
<text x="922" y="763.6" font-size="14.5" fill="#222" textLength="74.0" lengthAdjust="spacingAndGlyphs" xml:space="preserve">osteoblast /</text>
<text x="909.8" y="778.9" font-size="14.5" fill="#222" textLength="98.5" lengthAdjust="spacingAndGlyphs" xml:space="preserve">osteoclast cells</text>
<text x="1031.5" y="767.2" font-size="14.5" fill="#222" textLength="77.9" lengthAdjust="spacingAndGlyphs" xml:space="preserve">keratinocyte</text>
</svg></body></html>
